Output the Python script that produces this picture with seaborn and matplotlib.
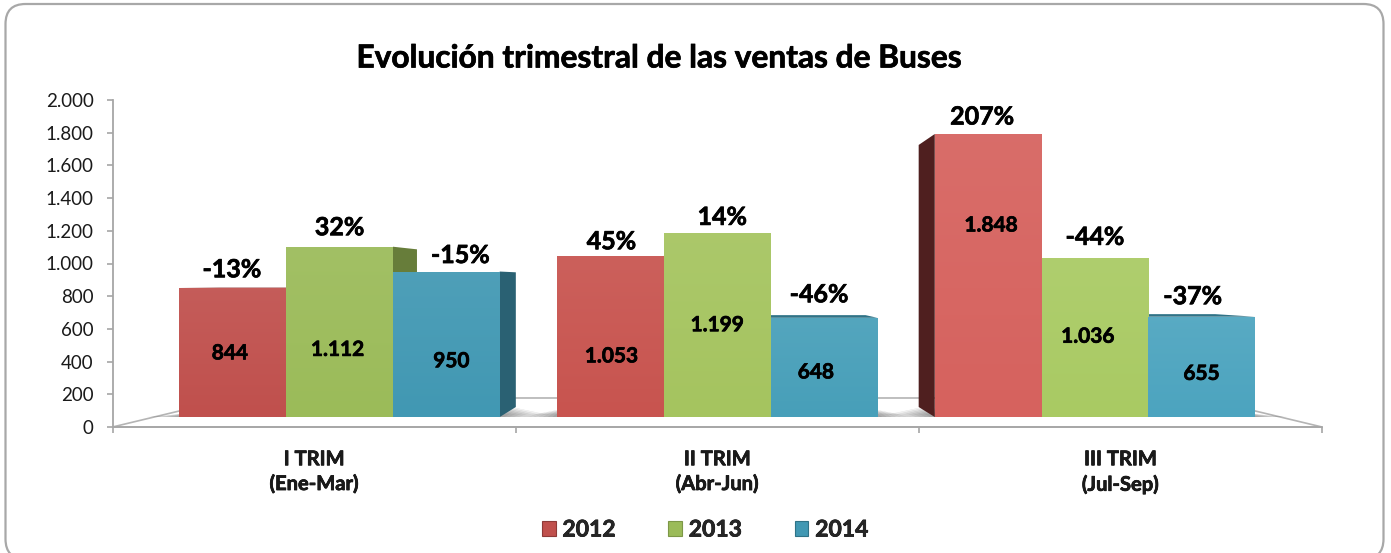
import numpy as np
import pandas as pd
import seaborn as sns
import matplotlib.pyplot as plt
import matplotlib.patheffects as pe
from matplotlib.patches import FancyBboxPatch, Polygon
from matplotlib.colors import LinearSegmentedColormap, to_rgb
from matplotlib.ticker import FuncFormatter
from matplotlib.transforms import Affine2D

trimestres = ["I TRIM\n(Ene-Mar)", "II TRIM\n(Abr-Jun)", "III TRIM\n(Jul-Sep)"]
anios = ["2012", "2013", "2014"]
ventas_2012 = [844, 1053, 1848]
ventas_2013 = [1112, 1199, 1036]
ventas_2014 = [950, 648, 655]
var_2012 = ["-13%", "45%", "207%"]
var_2013 = ["32%", "14%", "-44%"]
var_2014 = ["-15%", "-46%", "-37%"]

# colores por año y trimestre (el brillo sube hacia la derecha)
colores = {"2012": ["#c0504d", "#c8544f", "#d6625e"],
           "2013": ["#9bbb59", "#a5c45f", "#a9ca63"],
           "2014": ["#4198b3", "#479fb9", "#4ca4bf"]}
lateral = {"2012": "#4f1f1f", "2013": "#677d3a", "2014": "#2a6173"}
superior = {"2012": "#8e3a38", "2013": "#7d9747", "2014": "#2f7387"}

# desplazamiento de etiquetas respecto a la barra, en pixeles
dx_valor = [[-3, 1, 3], [-2, 0, -7], [5, -8, 0]]
dy_valor = [[-1, -20, 50], [-18, 0, 1], [-17, -5, -7]]
dx_var = [[-1, 1, -6], [0, 5, 0], [14, -5, -9]]
dy_var = [[18, 14, 17], [19, 16, 21], [16, 23, 20]]

sns.set_theme(style="white")
plt.rcParams["font.family"] = ["Lato", "DejaVu Sans"]

# trazo fino para engrosar el texto en negrita
grueso = [pe.withStroke(linewidth=0.5, foreground="black")]

df = pd.DataFrame({
    "trim": trimestres * 3,
    "anio": np.repeat(anios, 3),
    "ventas": ventas_2012 + ventas_2013 + ventas_2014,
})

fig = plt.figure(figsize=(13.91, 5.53), dpi=100)
W, H = 1391, 553
ax = fig.add_axes([112.5 / W, 1 - 427 / H, 1209.5 / W, 327 / H])

sns.barplot(data=df, x="trim", y="ventas", hue="anio", hue_order=anios,
            palette=[colores[a][0] for a in anios], saturation=1,
            width=0.848, gap=0, ax=ax, zorder=3)
ax.set_xlim(-0.5, 2.5)
ax.set_ylim(0, 2000)

# plano frontal y plano de fondo del grafico 3D
esc = 0.9367
fuga = 887
prof = 0.926
frente = Affine2D().translate(-1, 0).scale(esc, esc).translate(1, 61)
fondo = Affine2D().translate(-1, -fuga).scale(prof, prof).translate(1, fuga)
suelo = Affine2D().translate(-1, -fuga).scale(0.8, 0.8).translate(1, fuga)

# suelo
esq = np.array([[-0.5, 0], [2.5, 0]])
esq_fondo = suelo.transform(esq)
ax.add_patch(Polygon([esq[0], esq[1], esq_fondo[1], esq_fondo[0]], closed=True,
                     facecolor="white", edgecolor="#b4b4b4", lw=1.2, zorder=1,
                     clip_on=False))


def aclarar(c, f):
    r = np.array(to_rgb(c))
    return tuple(r + (1 - r) * f)


for i, (cont, anio) in enumerate(zip(ax.containers, anios)):
    for j, bar in enumerate(cont.patches):
        x0, w, h = bar.get_x(), bar.get_width(), bar.get_height()
        f = frente.transform([[x0, 0], [x0 + w, 0], [x0 + w, h], [x0, h]])
        b = fondo.transform(f)
        # cara lateral hacia el punto de fuga
        if f[0, 0] > 1:
            lado = [f[0], f[3], b[3], b[0]]
        else:
            lado = [f[1], f[2], b[2], b[1]]
        ax.add_patch(Polygon(lado, closed=True, color=lateral[anio], lw=0, zorder=2))
        # la cara superior solo se ve por debajo del punto de fuga
        if b[3, 1] > f[3, 1]:
            ax.add_patch(Polygon([f[3], f[2], b[2], b[3]], closed=True,
                                 color=superior[anio], lw=0, zorder=2))
        # sombra sobre el suelo
        for k in range(1, 8):
            ax.add_patch(Polygon([[f[0, 0] - 0.012 * k, f[0, 1]],
                                  [f[1, 0] + 0.012 * k, f[1, 1]],
                                  [b[1, 0] + 0.012 * k, b[1, 1] - 6 * k],
                                  [b[0, 0] - 0.012 * k, b[0, 1] - 6 * k]], closed=True,
                                 color="black", alpha=0.06, lw=0, zorder=1.5))
        # barra en el plano frontal con degradado
        bar.set_transform(frente + ax.transData)
        bar.set_edgecolor("none")
        base = colores[anio][j]
        cmap = LinearSegmentedColormap.from_list("g", [aclarar(base, 0.07), base])
        im = ax.imshow(np.linspace(0, 1, 64).reshape(-1, 1), cmap=cmap, aspect="auto",
                       extent=(f[0, 0], f[1, 0], f[0, 1], f[3, 1]), zorder=3.1)
        im.set_clip_path(bar)

ax.set_xlim(-0.5, 2.5)
ax.set_ylim(0, 2000)

# etiquetas
val_tabla = [ventas_2012, ventas_2013, ventas_2014]
var_tabla = [var_2012, var_2013, var_2014]
fmt = lambda v, _=None: f"{int(v):,}".replace(",", ".")
for i, cont in enumerate(ax.containers):
    for j, bar in enumerate(cont.patches):
        x0, w, h = bar.get_x(), bar.get_width(), bar.get_height()
        cx, top = frente.transform([x0 + w / 2, h])
        mid = frente.transform([x0 + w / 2, h / 2])[1]
        ax.annotate(fmt(val_tabla[i][j]), (cx, mid), xycoords="data",
                    xytext=(dx_valor[i][j] * 0.72, dy_valor[i][j] * 0.72),
                    textcoords="offset points", ha="center", va="center",
                    fontsize=15, fontweight="bold", color="black", zorder=5,
                    path_effects=grueso)
        ax.annotate(var_tabla[i][j], (cx, top), xycoords="data",
                    xytext=(dx_var[i][j] * 0.72, dy_var[i][j] * 0.72),
                    textcoords="offset points", ha="center", va="center",
                    fontsize=18, fontweight="bold", color="black", zorder=5,
                    annotation_clip=False, path_effects=grueso)

# ejes
sns.despine(ax=ax, top=True, right=True)
for s in ["left", "bottom"]:
    ax.spines[s].set_color("#a6a6a6")
    ax.spines[s].set_linewidth(1.3)
ax.set_yticks(np.arange(0, 2001, 200))
ax.yaxis.set_major_formatter(FuncFormatter(fmt))
ax.set_xlabel("")
ax.set_ylabel("")
ax.set_xticks([0, 1, 2], trimestres)
ax.set_xticks([-0.5, 0.5, 1.5, 2.5], minor=True)
ax.tick_params(axis="y", left=True, length=4.5, width=1.2, color="#a6a6a6",
               labelsize=13.5, labelcolor="#1a1a1a", pad=9)
ax.tick_params(axis="x", which="minor", bottom=True, length=4.5, width=1.2, color="#a6a6a6")
ax.tick_params(axis="x", which="major", bottom=False, pad=10)
for t in ax.get_xticklabels():
    t.set_fontsize(14.5)
    t.set_fontweight("bold")
    t.set_linespacing(1.3)
    t.set_color("#1a1a1a")
    t.set_path_effects(grueso)

fig.text(658 / W, 1 - 58 / H, "Evolución trimestral de las ventas de Buses", ha="center",
         va="center", fontsize=22.8, fontweight="bold", color="black", path_effects=grueso)

# leyenda
handles, labels = ax.get_legend_handles_labels()
ax.get_legend().remove()
leg = fig.legend(handles, labels, loc="center", bbox_to_anchor=(705 / W, 1 - 530 / H),
                 ncol=3, frameon=False, handlelength=0.6, handleheight=0.6,
                 handletextpad=0.3, columnspacing=2.3,
                 prop={"weight": "bold", "size": 16.5})
for h, a in zip(leg.get_patches(), anios):
    h.set_edgecolor(superior[a])
    h.set_linewidth(0.8)
for t in leg.get_texts():
    t.set_path_effects(grueso)

# marco redondeado (coordenadas de pantalla, origen abajo)
fig.add_artist(FancyBboxPatch((5.5, -6), 1378, 555, boxstyle="round,pad=0,rounding_size=20",
                              transform=None, facecolor="none", edgecolor="#a8a8a8", lw=1.6))

fig.savefig("out.png", dpi=100)
